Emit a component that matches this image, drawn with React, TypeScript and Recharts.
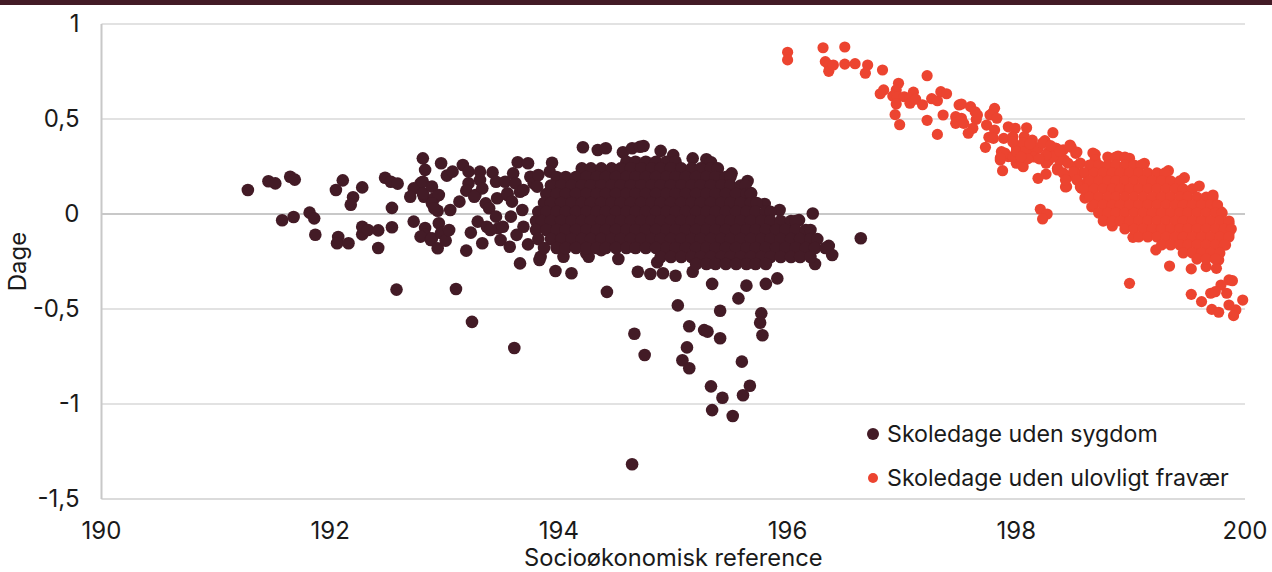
import React from 'react';
import {
    ScatterChart,
    Scatter,
    XAxis,
    YAxis,
    CartesianGrid,
    ReferenceLine,
    Legend,
} from 'recharts';

const DARK = '#431b26';
const RED = '#ec4430';
const FONT = 'Inter, "Liberation Sans", sans-serif';

const xTicks = [190, 192, 194, 196, 198, 200];
const yTicks = [1, 0.5, 0, -0.5, -1, -1.5];

// [reference, dage]
const sygdomVenstre: number[][] = [
    [191.28, 0.126], [191.46, 0.172], [191.52, 0.161], [191.65, 0.196], [191.69, 0.181], [191.58, -0.033],
    [191.68, -0.016], [191.82, 0.007], [191.86, -0.023], [191.87, -0.109], [192.05, 0.126], [192.11, 0.177],
    [192.2, 0.088], [192.18, 0.049], [192.28, 0.14], [192.07, -0.121], [192.06, -0.154], [192.16, -0.154],
    [192.28, -0.107], [192.28, -0.067], [192.33, -0.084], [192.42, -0.086], [192.42, -0.179], [192.54, -0.07],
    [192.54, 0.032], [192.48, 0.191], [192.53, 0.17], [192.59, 0.16], [192.58, -0.398], [192.73, -0.04],
    [192.79, 0.161], [192.73, 0.135], [192.7, 0.091], [192.82, 0.091], [192.81, 0.293], [192.83, 0.232],
    [192.81, 0.17], [192.81, 0.109], [192.89, 0.144], [192.91, 0.083], [192.95, 0.1], [192.89, 0.056],
    [192.94, 0.017], [192.91, 0.03], [192.97, 0.267], [192.83, -0.074], [192.83, -0.11], [192.79, -0.119],
    [192.88, -0.137], [192.89, -0.128], [192.94, -0.18], [192.95, -0.049], [192.97, -0.1], [193.01, -0.14],
    [193.04, -0.084], [193.02, 0.202], [193.07, 0.223], [193.05, 0.021], [193.13, 0.065], [193.16, 0.258],
    [193.21, 0.223], [193.31, 0.223], [193.42, 0.219], [193.31, 0.179], [193.21, 0.162], [193.19, 0.123],
    [193.27, 0.1], [193.33, 0.135], [193.26, 0.091], [193.46, 0.083], [193.55, 0.1], [193.45, 0.17],
    [193.53, 0.17], [193.55, 0.109], [193.36, 0.056], [193.39, 0.03], [193.59, 0.065], [193.68, 0.021],
    [193.58, -0.014], [193.45, -0.014], [193.29, -0.04], [193.37, -0.067], [193.47, -0.075], [193.4, -0.084],
    [193.51, -0.067], [193.69, -0.067], [193.23, -0.098], [193.19, -0.193], [193.33, -0.154], [193.49, -0.137],
    [193.57, -0.172], [193.63, -0.11], [193.73, -0.16], [193.64, 0.272], [193.73, 0.267], [193.94, 0.27],
    [193.6, 0.214], [193.62, 0.162], [193.66, 0.117], [193.69, 0.126], [193.75, 0.196], [193.78, 0.162],
    [193.82, 0.205], [193.92, 0.223], [193.81, 0.144],
];

const sygdomUdliggere: number[][] = [
    [193.1, -0.395], [193.24, -0.568], [193.61, -0.705], [193.66, -0.26], [193.83, -0.242], [193.97, -0.3],
    [194.11, -0.312], [194.04, -0.225], [194.24, -0.207], [194.26, -0.225], [194.37, -0.19], [194.52, -0.237],
    [193.84, -0.225], [194.69, -0.304], [194.8, -0.316], [194.91, -0.312], [195.02, -0.325], [195.17, -0.304],
    [194.86, -0.254], [195.34, -0.368], [195.64, -0.377], [195.81, -0.368], [195.91, -0.339], [195.57, -0.444],
    [195.04, -0.481], [195.41, -0.509], [195.77, -0.523], [195.76, -0.572], [195.78, -0.638], [195.14, -0.591],
    [195.27, -0.611], [195.3, -0.619], [195.41, -0.654], [194.66, -0.63], [194.75, -0.742], [195.12, -0.702],
    [195.08, -0.77], [195.14, -0.812], [195.6, -0.777], [195.67, -0.904], [195.61, -0.954], [195.33, -0.907],
    [195.43, -0.967], [195.34, -1.032], [195.52, -1.063], [194.64, -1.317], [194.42, -0.41],
];

const sygdomOverkant: number[][] = [
    [194.21, 0.351], [194.34, 0.337], [194.41, 0.346], [194.56, 0.325], [194.64, 0.346], [194.71, 0.354],
    [194.74, 0.358], [194.89, 0.332], [195.0, 0.31], [195.17, 0.293], [195.29, 0.288], [195.33, 0.272],
    [195.51, 0.214], [195.65, 0.174], [195.68, 0.11], [195.8, 0.053], [195.93, 0.021], [196.1, -0.032],
    [196.22, 0.003], [196.36, -0.168], [196.39, -0.216], [196.24, -0.263], [196.64, -0.128],
];

// dense core of the cloud, by rows: [dage, references]
const sygdomKerne: [number, number[]][] = [
    [0.275, [194.59, 194.67, 194.76, 194.85, 194.94, 195.02]],
    [0.24, [194.2, 194.28, 194.37, 194.46, 194.54, 194.63, 194.72, 194.81, 194.89, 194.98, 195.07, 195.16, 195.24, 195.33, 195.39]],
    [0.195, [193.98, 194.06, 194.15, 194.24, 194.33, 194.41, 194.5, 194.59, 194.67, 194.76, 194.85, 194.94, 195.02, 195.11, 195.2, 195.29, 195.37, 195.46, 195.5]],
    [0.15, [193.93, 194.02, 194.11, 194.2, 194.28, 194.37, 194.46, 194.54, 194.63, 194.72, 194.81, 194.89, 194.98, 195.07, 195.16, 195.24, 195.33, 195.42, 195.5, 195.59, 195.63]],
    [0.105, [193.89, 193.98, 194.06, 194.15, 194.24, 194.33, 194.41, 194.5, 194.59, 194.67, 194.76, 194.85, 194.94, 195.02, 195.11, 195.2, 195.29, 195.37, 195.46, 195.55, 195.64, 195.68]],
    [0.058, [193.87, 193.93, 194.02, 194.11, 194.2, 194.28, 194.37, 194.46, 194.54, 194.63, 194.72, 194.81, 194.89, 194.98, 195.07, 195.16, 195.24, 195.33, 195.42, 195.5, 195.59, 195.68, 195.73]],
    [0.011, [193.82, 193.89, 193.98, 194.06, 194.15, 194.24, 194.33, 194.41, 194.5, 194.59, 194.67, 194.76, 194.85, 194.94, 195.02, 195.11, 195.2, 195.29, 195.37, 195.46, 195.55, 195.64, 195.72, 195.81, 195.85]],
    [-0.037, [193.8, 193.85, 193.93, 194.02, 194.11, 194.2, 194.28, 194.37, 194.46, 194.54, 194.63, 194.72, 194.81, 194.89, 194.98, 195.07, 195.16, 195.24, 195.33, 195.42, 195.5, 195.59, 195.68, 195.77, 195.85, 195.94, 196.03, 196.07]],
    [-0.084, [193.8, 193.89, 193.98, 194.06, 194.15, 194.24, 194.33, 194.41, 194.5, 194.59, 194.67, 194.76, 194.85, 194.94, 195.02, 195.11, 195.2, 195.29, 195.37, 195.46, 195.55, 195.64, 195.72, 195.81, 195.9, 195.98, 196.07, 196.16, 196.2]],
    [-0.132, [193.82, 193.93, 194.02, 194.11, 194.2, 194.28, 194.37, 194.46, 194.54, 194.63, 194.72, 194.81, 194.89, 194.98, 195.07, 195.16, 195.24, 195.33, 195.42, 195.5, 195.59, 195.68, 195.77, 195.85, 195.94, 196.03, 196.11, 196.2, 196.26]],
    [-0.179, [193.87, 193.98, 194.06, 194.15, 194.24, 194.33, 194.41, 194.5, 194.59, 194.67, 194.76, 194.85, 194.94, 195.02, 195.11, 195.2, 195.29, 195.37, 195.46, 195.55, 195.64, 195.72, 195.81, 195.9, 195.98, 196.07, 196.16, 196.24, 196.33]],
    [-0.226, [194.89, 194.98, 195.07, 195.16, 195.24, 195.33, 195.42, 195.5, 195.59, 195.68, 195.77, 195.85, 195.94, 196.03, 196.11, 196.2]],
    [-0.263, [195.2, 195.29, 195.37, 195.46, 195.55, 195.64, 195.72, 195.81]],
];

const fravaerSpredt: number[][] = [
    [196.0, 0.851], [196.0, 0.811], [196.31, 0.875], [196.5, 0.879], [196.33, 0.802], [196.36, 0.784],
    [196.36, 0.751], [196.4, 0.784], [196.5, 0.789], [196.59, 0.791], [196.7, 0.784], [196.68, 0.741],
    [196.83, 0.758], [197.22, 0.728], [196.84, 0.653], [196.81, 0.633], [196.97, 0.688], [196.95, 0.653],
    [196.92, 0.621], [196.96, 0.617], [197.02, 0.617], [196.95, 0.579], [197.1, 0.641], [197.07, 0.609],
    [197.07, 0.583], [197.12, 0.604], [197.18, 0.575], [197.26, 0.607], [197.31, 0.596], [197.34, 0.644],
    [197.39, 0.633], [196.94, 0.523], [196.98, 0.47], [197.22, 0.493], [197.36, 0.521], [197.31, 0.419],
    [197.5, 0.574], [197.52, 0.579], [197.6, 0.565], [197.64, 0.538], [197.66, 0.521], [197.65, 0.498],
    [197.47, 0.512], [197.47, 0.477], [197.52, 0.504], [197.54, 0.477], [197.62, 0.451], [197.58, 0.425],
    [197.74, 0.468], [197.73, 0.351], [197.76, 0.404], [197.79, 0.53], [197.81, 0.556], [197.77, 0.521],
    [197.83, 0.504], [197.81, 0.442], [197.93, 0.459], [197.99, 0.451], [198.09, 0.454], [198.32, 0.428],
    [197.8, 0.398], [197.89, 0.398], [197.97, 0.407], [198.07, 0.407], [198.14, 0.389], [198.25, 0.386],
    [198.0, 0.354], [198.1, 0.347], [198.19, 0.346], [198.35, 0.346], [198.48, 0.351], [197.87, 0.328],
    [197.86, 0.284], [197.93, 0.302], [198.0, 0.267], [198.06, 0.249], [197.88, 0.228], [198.16, 0.302],
    [198.26, 0.267], [198.26, 0.21], [198.19, 0.188], [198.21, 0.025], [198.27, 0.0], [198.23, -0.026],
    [198.33, 0.302], [198.42, 0.284], [198.52, 0.319], [198.36, 0.241], [198.45, 0.196], [198.44, 0.144],
    [198.51, 0.249], [198.57, 0.135], [198.6, 0.084], [198.66, 0.038], [198.69, 0.314], [198.89, 0.305],
    [198.99, 0.293], [199.12, 0.267], [199.33, 0.228], [199.47, 0.191], [199.6, 0.147], [199.72, 0.1],
    [199.79, 0.012], [199.86, -0.049], [199.86, -0.102], [199.83, -0.163], [199.77, -0.242], [199.75, -0.286],
    [199.66, -0.277], [199.53, -0.289], [199.34, -0.274], [198.99, -0.365], [199.02, -0.123], [199.22, -0.189],
    [198.8, -0.032], [198.84, -0.063], [199.86, -0.347], [199.89, -0.351], [199.79, -0.374], [199.7, -0.417],
    [199.84, -0.417], [199.53, -0.423], [199.62, -0.461], [199.98, -0.453], [199.86, -0.479], [199.71, -0.502],
    [199.77, -0.517], [199.92, -0.505], [199.9, -0.535], [199.74, -0.409],
];

// the thick band leading into the red cloud
const fravaerBaand: number[][] = [
    [198.34, 0.347], [198.38, 0.284], [198.41, 0.337], [198.43, 0.142], [198.45, 0.268], [198.47, 0.363],
    [198.5, 0.221], [198.53, 0.326], [198.56, 0.268], [198.58, 0.216], [198.62, 0.168], [198.66, 0.126],
    [198.67, 0.321], [198.69, 0.284], [198.36, 0.232], [198.41, 0.216], [198.43, 0.179], [198.53, 0.179],
    [198.56, 0.142], [198.12, 0.326], [198.19, 0.347], [198.06, 0.374], [198.15, 0.3], [198.24, 0.295],
    [198.23, 0.374], [198.28, 0.326], [197.97, 0.379], [197.9, 0.321], [197.86, 0.295], [197.97, 0.3],
    [198.05, 0.258], [198.28, 0.28], [198.32, 0.3], [198.26, 0.31], [198.0, 0.33], [198.08, 0.33],
    [198.1, 0.29], [198.2, 0.29], [198.04, 0.3], [198.3, 0.36], [198.38, 0.33], [198.12, 0.37],
];

const fravaerKerne: [number, number[]][] = [
    [0.3, [198.8, 198.87, 198.95]],
    [0.258, [198.64, 198.72, 198.8, 198.87, 198.95, 199.03, 199.09]],
    [0.216, [198.6, 198.68, 198.76, 198.84, 198.91, 198.99, 199.07, 199.15, 199.23, 199.3]],
    [0.174, [198.64, 198.72, 198.8, 198.87, 198.95, 199.03, 199.11, 199.19, 199.27, 199.35, 199.43]],
    [0.132, [198.6, 198.68, 198.76, 198.84, 198.91, 198.99, 199.07, 199.15, 199.23, 199.31, 199.39, 199.46, 199.54]],
    [0.089, [198.64, 198.72, 198.8, 198.87, 198.95, 199.03, 199.11, 199.19, 199.27, 199.35, 199.43, 199.5, 199.58, 199.66, 199.72]],
    [0.047, [198.68, 198.76, 198.84, 198.91, 198.99, 199.07, 199.15, 199.23, 199.31, 199.39, 199.46, 199.54, 199.62, 199.7, 199.76]],
    [0.005, [198.72, 198.8, 198.87, 198.95, 199.03, 199.11, 199.19, 199.27, 199.35, 199.43, 199.5, 199.58, 199.66, 199.74, 199.8]],
    [-0.037, [198.76, 198.84, 198.91, 198.99, 199.07, 199.15, 199.23, 199.31, 199.39, 199.46, 199.54, 199.62, 199.7, 199.78, 199.86]],
    [-0.079, [198.95, 199.03, 199.11, 199.19, 199.27, 199.35, 199.43, 199.5, 199.58, 199.66, 199.74, 199.82, 199.88]],
    [-0.121, [199.07, 199.15, 199.23, 199.31, 199.39, 199.46, 199.54, 199.62, 199.7, 199.78, 199.86]],
    [-0.163, [199.27, 199.35, 199.43, 199.5, 199.58, 199.66, 199.74, 199.82]],
    [-0.205, [199.46, 199.54, 199.62, 199.7, 199.78]],
    [-0.237, [199.58, 199.66, 199.74]],
];

const toPoints = (pairs: number[][], rows: [number, number[]][]) => [
    ...pairs.map(([x, y]) => ({ x, y })),
    ...rows.flatMap(([y, xs]) => xs.map((x) => ({ x, y }))),
];

const sygdomData = toPoints([...sygdomVenstre, ...sygdomUdliggere, ...sygdomOverkant], sygdomKerne);
const fravaerData = toPoints([...fravaerSpredt, ...fravaerBaand], fravaerKerne);

const legendItems = [
    { name: 'Skoledage uden sygdom', color: DARK, r: 6 },
    { name: 'Skoledage uden ulovligt fravær', color: RED, r: 5 },
];

const ChartLegend = () => (
    <div style={{ fontFamily: FONT, fontSize: 23.2, color: '#1a1a1a' }}>
        {legendItems.map((item) => (
            <div key={item.name} style={{ display: 'flex', alignItems: 'center', height: 44 }}>
                <svg width={21} height={14}>
                    <circle cx={7} cy={7} r={item.r} fill={item.color} />
                </svg>
                <span>{item.name}</span>
            </div>
        ))}
    </div>
);

const dot = (r: number, fill: string) => (props: any) => (
    <circle cx={props.cx} cy={props.cy} r={r} fill={fill} />
);

const tickStyle = { fontFamily: FONT, fontSize: 24, fill: '#1a1a1a' };
const formatTick = (v: number) => String(v).replace('.', ',');

const App = () => {
    return (
        <div style={{ position: 'absolute', left: 0, top: 0, width: 1272, height: 572, background: '#fff' }}>
            <div style={{ height: 5, background: DARK }} />
            <div style={{ position: 'absolute', left: 0, top: 0 }}>
                <ScatterChart width={1272} height={572} margin={{ top: 24, right: 27, bottom: 13, left: 41.5 }}>
                    <CartesianGrid vertical={false} stroke="#d9d9d9" strokeWidth={1.5} />
                    <XAxis
                        type="number"
                        dataKey="x"
                        domain={[190, 200]}
                        ticks={xTicks}
                        interval={0}
                        height={60}
                        tickLine={false}
                        axisLine={{ stroke: '#d9d9d9', strokeWidth: 1.5 }}
                        tick={tickStyle}
                        tickMargin={17}
                        label={{
                            value: 'Socioøkonomisk reference',
                            position: 'insideBottom',
                            offset: -7,
                            style: { fontFamily: FONT, fontSize: 23.7, fill: '#1a1a1a' },
                        }}
                    />
                    <YAxis
                        type="number"
                        dataKey="y"
                        domain={[-1.5, 1]}
                        ticks={yTicks}
                        interval={0}
                        width={60}
                        tickLine={false}
                        axisLine={{ stroke: '#c8c8c8', strokeWidth: 2 }}
                        tick={{ ...tickStyle, dy: -1 }}
                        tickMargin={16}
                        tickFormatter={formatTick}
                        label={{
                            value: 'Dage',
                            angle: -90,
                            position: 'insideLeft',
                            offset: -24,
                            style: { fontFamily: FONT, fontSize: 24, fill: '#1a1a1a', textAnchor: 'middle' },
                        }}
                    />
                    <ReferenceLine y={0} stroke="#c8c8c8" strokeWidth={2} />
                    <Legend
                        layout="vertical"
                        align="center"
                        verticalAlign="middle"
                        content={<ChartLegend />}
                        wrapperStyle={{ left: 866, top: 412, width: 380, bottom: 'auto', right: 'auto' }}
                    />
                    <Scatter
                        name="Skoledage uden sygdom"
                        data={sygdomData}
                        shape={dot(6.3, DARK)}
                        isAnimationActive={false}
                    />
                    <Scatter
                        name="Skoledage uden ulovligt fravær"
                        data={fravaerData}
                        shape={dot(5.6, RED)}
                        isAnimationActive={false}
                    />
                </ScatterChart>
            </div>
        </div>
    );
};

export default App;
